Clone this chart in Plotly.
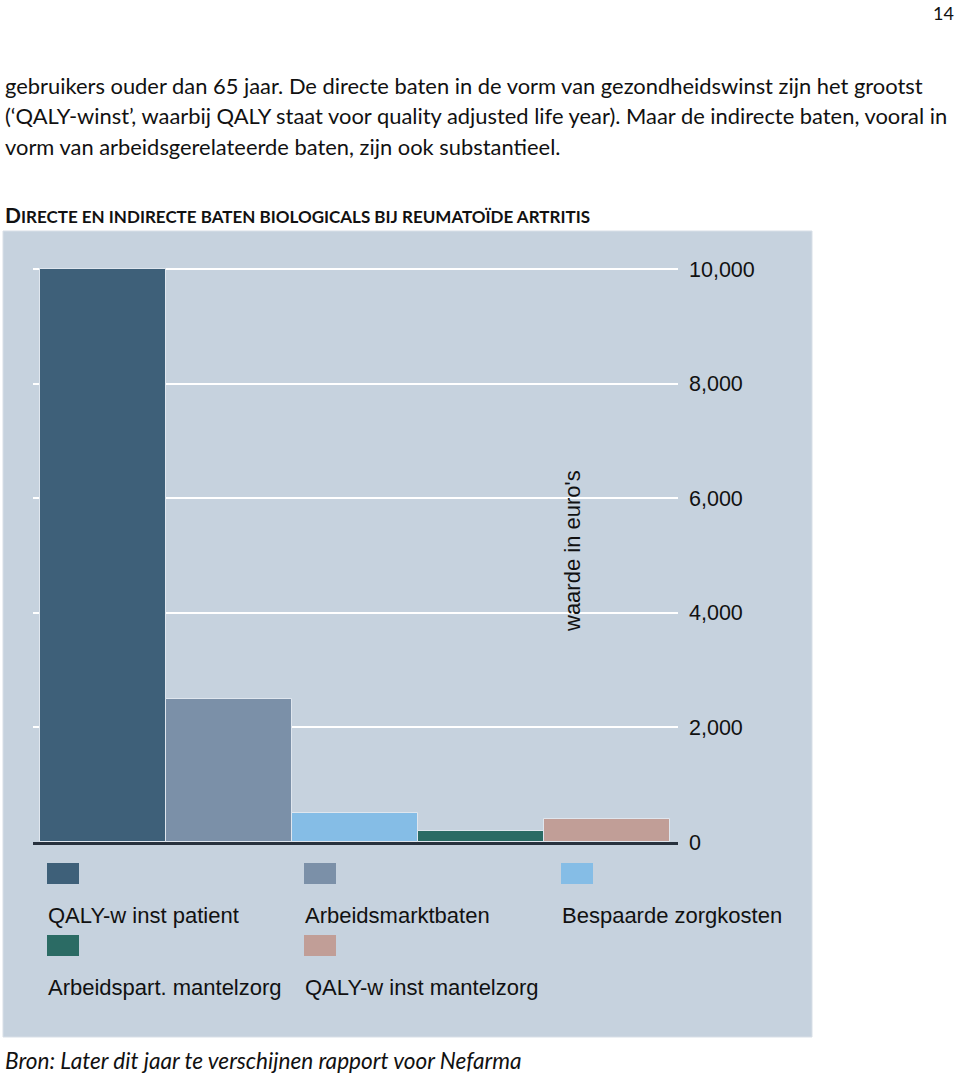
import plotly.graph_objects as go

# ---- data ----
series = ["QALY-w inst patient", "Arbeidsmarktbaten", "Bespaarde zorgkosten",
          "Arbeidspart. mantelzorg", "QALY-w inst mantelzorg"]
values = [10000, 2500, 500, 200, 400]
colors = ["#3e6079", "#7b90a8", "#85bde6", "#2b6b64", "#c19e97"]
y_ticks = [0, 2000, 4000, 6000, 8000, 10000]
y_title = "waarde in euro's"
chart_title = 'D<span style="font-size:17px">IRECTE EN INDIRECTE BATEN BIOLOGICALS BIJ REUMATOÏDE ARTRITIS</span>'
body_lines = [
    "gebruikers ouder dan 65 jaar. De directe baten in de vorm van gezondheidswinst zijn het grootst",
    "(‘QALY-winst’, waarbij QALY staat voor quality adjusted life year). Maar de indirecte baten, vooral in",
    "vorm van arbeidsgerelateerde baten, zijn ook substantieel.",
]
source = "Bron: Later dit jaar te verschijnen rapport voor Nefarma"
page_no = "14"

W, H = 960, 1073
L, R, T, B = 33, 678, 250, 842  # plot area in pixels


def px(x):
    return (x - L) / (R - L)


def py(y):
    return (B - y) / (B - T)


fig = go.Figure()
for name, v, c in zip(series, values, colors):
    fig.add_trace(go.Bar(x=[name], y=[v], name=name, marker_color=c,
                         marker_line=dict(color="#dfe6ee", width=1),
                         showlegend=False))

ymax = 10000 * (B - T) / (B - 269)

shapes = [dict(type="rect", xref="paper", yref="paper", x0=px(3), x1=px(812),
               y0=py(1037), y1=py(231), fillcolor="#c6d2de",
               line=dict(color="#d8dfe7", width=1), layer="below")]
annotations = []

# manual legend (swatch above label, 3 columns)
for i, (name, c) in enumerate(zip(series, colors)):
    col, row = i % 3, i // 3
    x0 = 47 + col * 257
    ytop = 863 + row * 72
    shapes.append(dict(type="rect", xref="paper", yref="paper",
                       x0=px(x0), x1=px(x0 + 32), y0=py(ytop + 21), y1=py(ytop),
                       fillcolor=c, line=dict(width=0)))
    annotations.append(dict(xref="paper", yref="paper", x=px(x0 - 1), y=py(ytop + 52),
                            text=name, showarrow=False, xanchor="left", yanchor="middle",
                            font=dict(family="Liberation Sans, Arial", size=22, color="#111")))

annotations.append(dict(xref="paper", yref="paper", x=px(572), y=py(551), text=y_title,
                        textangle=-90, showarrow=False, xanchor="center", yanchor="middle",
                        font=dict(family="Liberation Sans, Arial", size=22, color="#111")))

for k, line in enumerate(body_lines):
    annotations.append(dict(xref="paper", yref="paper", x=px(3), y=py(85 + k * 30.5), text=line,
                            showarrow=False, xanchor="left", yanchor="middle",
                            font=dict(family="Lato", size=21.9, color="#111")))
annotations.append(dict(xref="paper", yref="paper", x=px(3), y=py(214), text="<b>" + chart_title + "</b>",
                        showarrow=False, xanchor="left", yanchor="middle",
                        font=dict(family="Lato", size=21, color="#111")))
annotations.append(dict(xref="paper", yref="paper", x=px(3), y=py(1060), text="<i>" + source + "</i>",
                        showarrow=False, xanchor="left", yanchor="middle",
                        font=dict(family="Lato", size=22.6, color="#111")))
annotations.append(dict(xref="paper", yref="paper", x=px(956), y=py(13), text=page_no,
                        showarrow=False, xanchor="right", yanchor="middle",
                        font=dict(family="Lato", size=18, color="#111")))

fig.update_layout(
    width=W, height=H,
    margin=dict(l=L, r=W - R, t=T, b=H - B, pad=0),
    paper_bgcolor="white", plot_bgcolor="rgba(0,0,0,0)",
    barmode="overlay", bargap=0,
    showlegend=False,
    shapes=shapes, annotations=annotations,
    xaxis=dict(type="category", categoryorder="array", categoryarray=series,
               range=[-0.556, 4.564], showticklabels=False, showgrid=False,
               showline=True, linecolor="#27313d", linewidth=3, zeroline=False, ticks=""),
    yaxis=dict(side="right", range=[0, ymax], tickvals=y_ticks, tickformat=",",
               showgrid=True, gridcolor="white", gridwidth=2, zeroline=False,
               ticks="", ticklabelstandoff=10,
               tickfont=dict(family="Liberation Sans, Arial", size=21.5, color="#111")),
)

fig.write_html("out.html")
